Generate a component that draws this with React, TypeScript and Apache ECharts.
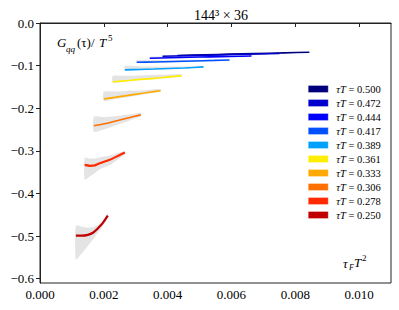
import React, { useEffect, useRef } from "react";
import * as echarts from "echarts";

// tau*T values (legend order, top to bottom)
const tauT = ["0.500", "0.472", "0.444", "0.417", "0.389", "0.361", "0.333", "0.306", "0.278", "0.250"];
const lineColors = ["#00007f", "#0000cc", "#0000ff", "#0050ff", "#00a0ff", "#ffee00", "#ffaa00", "#ff7000", "#ff2a00", "#c00000"];

// tau_F T^2 (x) per series
const tauFT2: number[][] = [
  [0.00431, 0.00516, 0.00594, 0.00672, 0.00766, 0.00844],
  [0.00384, 0.00453, 0.00531, 0.00609, 0.00688, 0.0075],
  [0.00344, 0.00406, 0.00469, 0.00531, 0.00594, 0.00663],
  [0.00303, 0.00359, 0.00422, 0.00484, 0.00547, 0.00594],
  [0.00266, 0.003125, 0.00359, 0.00406, 0.00453, 0.005125],
  [0.00228, 0.00266, 0.003125, 0.00359, 0.00406, 0.00444],
  [0.002, 0.00234, 0.00266, 0.00297, 0.003375, 0.00378],
  [0.00169, 0.00203, 0.00234, 0.00266, 0.00297, 0.00316],
  [0.0014, 0.00156, 0.00172, 0.001875, 0.00219, 0.00244, 0.00266],
  [0.001125, 0.0013125, 0.0015, 0.00166, 0.00181, 0.00197, 0.002125],
];
// G_qq(tau)/T^5 (y) per series
const gqq: number[][] = [
  [-0.0761, -0.0745, -0.0731, -0.0717, -0.07, -0.0686],
  [-0.078, -0.0768, -0.0754, -0.074, -0.0726, -0.0714],
  [-0.0827, -0.0815, -0.0803, -0.0794, -0.0785, -0.0775],
  [-0.092, -0.0914, -0.0902, -0.089, -0.0878, -0.0867],
  [-0.11, -0.109, -0.108, -0.1066, -0.1054, -0.103],
  [-0.138, -0.1358, -0.1323, -0.13, -0.1265, -0.1241],
  [-0.178, -0.1745, -0.171, -0.1675, -0.163, -0.159],
  [-0.241, -0.2365, -0.2307, -0.2248, -0.219, -0.2155],
  [-0.333, -0.335, -0.334, -0.329, -0.321, -0.312, -0.304],
  [-0.499, -0.499, -0.497, -0.492, -0.482, -0.469, -0.452],
];
// error band upper / lower edges
const bandHi: number[][] = [
  [-0.0745, -0.0732, -0.072, -0.0708, -0.0692, -0.068],
  [-0.0762, -0.0752, -0.074, -0.0728, -0.0716, -0.0706],
  [-0.079, -0.079, -0.078, -0.078, -0.077, -0.0768],
  [-0.087, -0.087, -0.087, -0.086, -0.086, -0.0855],
  [-0.101, -0.102, -0.102, -0.102, -0.102, -0.102],
  [-0.124, -0.124, -0.123, -0.122, -0.121, -0.12],
  [-0.161, -0.161, -0.16, -0.159, -0.157, -0.155],
  [-0.22, -0.221, -0.219, -0.216, -0.213, -0.211],
  [-0.316, -0.318, -0.318, -0.315, -0.311, -0.305, -0.301],
  [-0.475, -0.478, -0.48, -0.479, -0.474, -0.465, -0.446],
];
const bandLo: number[][] = [
  [-0.0775, -0.0758, -0.0742, -0.0726, -0.0708, -0.0692],
  [-0.0795, -0.0782, -0.0766, -0.075, -0.0735, -0.0722],
  [-0.084, -0.083, -0.082, -0.081, -0.08, -0.0782],
  [-0.094, -0.093, -0.092, -0.09, -0.089, -0.0875],
  [-0.111, -0.11, -0.109, -0.107, -0.106, -0.104],
  [-0.14, -0.138, -0.134, -0.131, -0.128, -0.125],
  [-0.183, -0.179, -0.175, -0.171, -0.166, -0.161],
  [-0.255, -0.249, -0.241, -0.233, -0.224, -0.219],
  [-0.368, -0.36, -0.352, -0.343, -0.333, -0.32, -0.308],
  [-0.555, -0.54, -0.523, -0.508, -0.492, -0.476, -0.455],
];

const xTicks = [0, 0.002, 0.004, 0.006, 0.008, 0.01];
const yTicks = [-0.6, -0.5, -0.4, -0.3, -0.2, -0.1, 0];

const SERIF = "Liberation Serif";

export default function App() {
  const ref = useRef<HTMLDivElement>(null);
  useEffect(() => {
    if (!ref.current) return;
    const chart = echarts.init(ref.current, undefined, { renderer: "svg" });
    const names = tauT.map((t) => `τT = ${t}`);

    const bands: any[] = tauT.map((t, i) => ({
      type: "custom",
      name: `band ${t}`,
      silent: true,
      z: 1,
      data: tauFT2[i].map((x, j) => [x, bandLo[i][j], bandHi[i][j]]),
      encode: { x: 0, y: [1, 2] },
      renderItem: (params: any, api: any) => {
        if (params.dataIndex !== 0) return null;
        const pts: number[][] = [];
        for (let j = 0; j < tauFT2[i].length; j++) pts.push(api.coord([tauFT2[i][j], bandHi[i][j]]));
        for (let j = tauFT2[i].length - 1; j >= 0; j--) pts.push(api.coord([tauFT2[i][j], bandLo[i][j]]));
        return {
          type: "polygon",
          shape: { points: pts, smooth: 0.2 },
          style: { fill: "rgba(205,205,205,0.55)", stroke: "none" },
        };
      },
    }));

    const lines: any[] = tauT.map((t, i) => ({
      type: "line",
      name: names[i],
      z: 3,
      symbol: "none",
      showSymbol: false,
      smooth: 0.2,
      data: tauFT2[i].map((x, j) => [x, gqq[i][j]]),
      itemStyle: { color: lineColors[i] },
      lineStyle: { color: lineColors[i], width: i >= 8 ? 2.2 : 1.6 },
    }));

    chart.setOption({
      animation: false,
      textStyle: { fontFamily: SERIF },
      grid: {
        left: 40,
        top: 23,
        width: 351,
        height: 260,
        show: true,
        borderColor: "#222",
        borderWidth: 1,
      },
      title: {
        text: "144³ × 36",
        left: 216,
        top: 3,
        textAlign: "center",
        textStyle: { fontFamily: SERIF, fontSize: 14, fontWeight: "normal", color: "#000" },
      },
      xAxis: {
        type: "value",
        min: 0,
        max: 0.011,
        axisLine: { show: true, lineStyle: { color: "#222", width: 1 } },
        axisTick: { show: true, length: 4, lineStyle: { color: "#222" }, customValues: xTicks },
        axisLabel: {
          margin: 5,
          color: "#000",
          fontFamily: SERIF,
          fontSize: 13,
          customValues: xTicks,
          formatter: (v: number) => v.toFixed(3),
        },
        splitLine: { show: false },
      },
      yAxis: {
        type: "value",
        min: -0.61,
        max: 0,
        axisLine: { show: true, lineStyle: { color: "#222", width: 1 } },
        axisTick: { show: true, length: 4, lineStyle: { color: "#222" }, customValues: yTicks },
        axisLabel: {
          margin: 6,
          color: "#000",
          fontFamily: SERIF,
          fontSize: 13,
          customValues: yTicks,
          formatter: (v: number) => (Math.abs(v) < 1e-9 ? "0.0" : v.toFixed(1).replace("-", "−")),
        },
        splitLine: { show: false },
      },
      legend: {
        orient: "vertical",
        left: 303,
        top: 77,
        itemWidth: 20,
        itemHeight: 7,
        itemGap: 0,
        icon: "rect",
        data: names.map((n, i) => ({ name: n, itemStyle: { color: lineColors[i], borderColor: "rgba(255,255,255,0.6)", borderWidth: 0.5 } })),
        formatter: (n: string) => `{i|τT} {n|${n.slice(3)}}`,
        textStyle: {
          fontFamily: SERIF,
          fontSize: 10.5,
          lineHeight: 14,
          color: "#000",
          padding: [0, 0, 0, 3],
          rich: {
            i: { fontFamily: SERIF, fontStyle: "italic", fontSize: 10.5, lineHeight: 14 },
            n: { fontFamily: SERIF, fontSize: 10.5, lineHeight: 14 },
          },
        },
      },
      graphic: [
        { type: "text", left: 57, top: 36, style: { text: "G", fontFamily: SERIF, fontStyle: "italic", fontSize: 13, fill: "#000" } },
        { type: "text", left: 66, top: 44, style: { text: "qq", fontFamily: SERIF, fontStyle: "italic", fontSize: 9, fill: "#000" } },
        { type: "text", left: 77, top: 36, style: { text: "(τ)/", fontFamily: SERIF, fontSize: 13, fill: "#000" } },
        { type: "text", left: 99, top: 36, style: { text: "T", fontFamily: SERIF, fontStyle: "italic", fontSize: 13, fill: "#000" } },
        { type: "text", left: 108, top: 33, style: { text: "5", fontFamily: SERIF, fontSize: 9, fill: "#000" } },
        { type: "text", left: 343, top: 257, style: { text: "τ", fontFamily: SERIF, fontStyle: "italic", fontSize: 13, fill: "#000" } },
        { type: "text", left: 349, top: 263, style: { text: "F", fontFamily: SERIF, fontStyle: "italic", fontSize: 8, fill: "#000" } },
        { type: "text", left: 354, top: 256, style: { text: "T", fontFamily: SERIF, fontStyle: "italic", fontSize: 13, fill: "#000" } },
        { type: "text", left: 362, top: 253, style: { text: "2", fontFamily: SERIF, fontSize: 9, fill: "#000" } },
      ],
      series: [...bands, ...lines],
    });
    return () => chart.dispose();
  }, []);
  return <div ref={ref} style={{ width: 399, height: 310, position: "absolute", left: 0, top: 0 }} />;
}
